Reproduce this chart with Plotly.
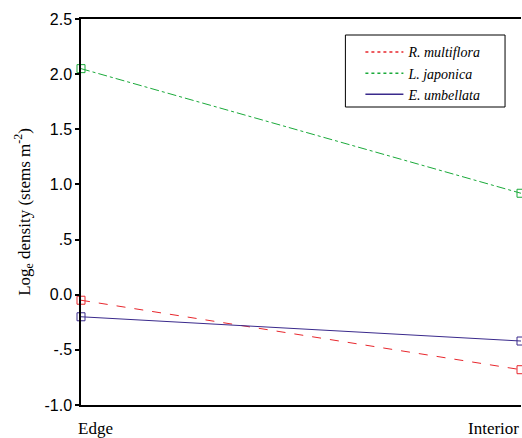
import plotly.graph_objects as go

positions = [0, 1]
position_labels = ["Edge", "Interior"]
series_names = ["R. multiflora", "L. japonica", "E. umbellata"]
r_multiflora = [-0.05, -0.68]
l_japonica = [2.05, 0.92]
e_umbellata = [-0.20, -0.42]
y_ticks = [-1.0, -0.5, 0.0, 0.5, 1.0, 1.5, 2.0, 2.5]
y_tick_labels = ["-1.0", "-.5", "0.0", ".5", "1.0", "1.5", "2.0", "2.5"]

styles = [
    dict(color="#e8262c", dash="dash"),
    dict(color="#1aaa3a", dash="dashdot"),
    dict(color="#3a2a8c", dash="solid"),
]

fig = go.Figure()
for i, (name, vals, st) in enumerate(zip(series_names, [r_multiflora, l_japonica, e_umbellata], styles)):
    fig.add_trace(go.Scatter(
        x=positions, y=vals, name=name, mode="lines+markers", showlegend=False,
        line=dict(color=st["color"], dash=st["dash"], width=1),
        marker=dict(symbol="square-open", size=8, color=st["color"], line=dict(width=1)),
        cliponaxis=False,
    ))
    fig.add_trace(go.Scatter(
        x=[None], y=[None], name=name, mode="lines", legendgroup=f"g{i}",
        line=dict(color=st["color"], dash="dot" if i < 2 else "solid", width=1.5),
    ))

fig.update_layout(
    width=522, height=438,
    margin=dict(l=81, r=1, t=19, b=33, autoexpand=False),
    plot_bgcolor="white", paper_bgcolor="white",
    showlegend=True,
    legend=dict(
        x=0.635, y=0.955, xanchor="left", yanchor="top",
        borderwidth=0, bgcolor="rgba(0,0,0,0)",
        font=dict(family="Liberation Serif", size=14, color="black", style="italic"),
        itemwidth=38, tracegroupgap=0,
    ),
    xaxis=dict(
        range=[0, 1], showgrid=False, zeroline=False,
        showline=True, linecolor="black", linewidth=1.5, mirror=True,
        showticklabels=False, ticks="",
    ),
    yaxis=dict(
        range=[-1.0, 2.5], showgrid=False, zeroline=False, automargin=False,
        showline=True, linecolor="black", linewidth=1.5,
        tickvals=y_ticks, ticktext=y_tick_labels,
        ticks="outside", ticklen=4, tickwidth=2, tickcolor="black",
        tickfont=dict(family="Liberation Sans", size=16, color="black"),
        title=dict(text="Log<sub>e</sub> density (stems m<sup>-2</sup>)",
                   font=dict(family="Liberation Serif", size=17, color="black"),
                   standoff=10),
    ),
)

fig.add_shape(type="rect", xref="paper", yref="paper",
              x0=(346 - 81) / 441, x1=(506 - 81) / 441,
              y0=(405 - 107) / 386, y1=(405 - 35) / 386,
              line=dict(color="black", width=1), fillcolor="white", layer="below")

fig.add_annotation(x=positions[0], y=0, xref="x", yref="paper", yanchor="top",
                   xanchor="left", xshift=-5, yshift=-12, text=position_labels[0],
                   showarrow=False, font=dict(family="Liberation Serif", size=17, color="black"))
fig.add_annotation(x=positions[1], y=0, xref="x", yref="paper", yanchor="top",
                   xanchor="right", xshift=0, yshift=-12, text=position_labels[1],
                   showarrow=False, font=dict(family="Liberation Serif", size=17, color="black"))

fig.write_html("out.html", config={"displayModeBar": False},
               post_script="document.body.style.margin='0';document.body.style.overflow='hidden';")
